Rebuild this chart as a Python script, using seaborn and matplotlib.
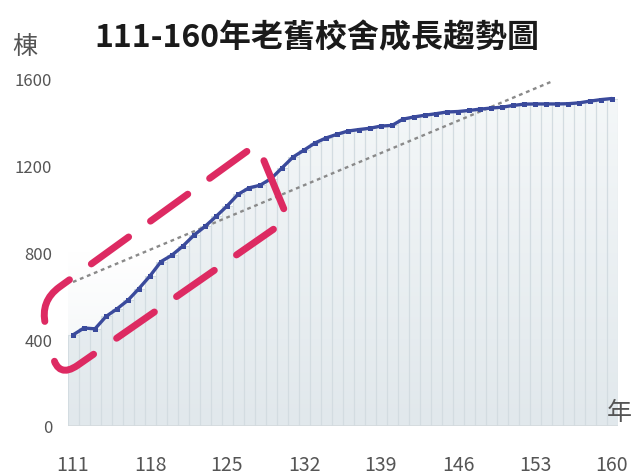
import numpy as np
import matplotlib
matplotlib.use("Agg")
import matplotlib.pyplot as plt
import seaborn as sns
from matplotlib.path import Path
from matplotlib.patches import PathPatch
from matplotlib.colors import LinearSegmentedColormap
from matplotlib.transforms import IdentityTransform

# 老舊校舍累計棟數（民國年）
years = list(range(111, 161))
buildings = [420, 452, 448, 505, 540, 580, 634, 692, 758, 788,
             830, 880, 920, 966, 1014, 1068, 1098, 1110, 1140, 1190,
             1240, 1272, 1305, 1328, 1345, 1360, 1367, 1373, 1383, 1386,
             1415, 1425, 1433, 1440, 1448, 1450, 1455, 1461, 1466, 1470,
             1478, 1484, 1485, 1485, 1485, 1486, 1490, 1498, 1505, 1510]

# 線性趨勢線端點
trend_years = [111, 154.6]
trend_values = [664, 1590]

# 座標軸刻度
x_ticks = [111, 118, 125, 132, 139, 146, 153, 160]
y_ticks = [0, 400, 800, 1200, 1600]

# 標示區（快速成長期）四個角，依序：左上、左下、右下、右上
zone_years = [108.0, 109.64, 130.55, 127.73]
zone_values = [576, 217, 954, 1300]

sns.set_style("white")
plt.rcParams["font.family"] = ["Noto Sans CJK TC", "DejaVu Sans"]

W, H = 637, 477
fig = plt.figure(figsize=(W / 100, H / 100), dpi=100)
ax = fig.add_axes([67.5 / W, 50 / H, 550 / W, 347 / H])

# 柱狀底紋
sns.barplot(x=years, y=buildings, native_scale=True, width=1.0, fill=False,
            color="#d3dce1", linewidth=0.8, errorbar=None, ax=ax, zorder=1)

# 背景淡漸層
bg = np.linspace(0, 1, 256).reshape(-1, 1)
bg_cmap = LinearSegmentedColormap.from_list("bg", ["#eef2f4", "#ffffff", "#ffffff"])
ax.imshow(bg, extent=[110.5, 160.5, 0, 1600], origin="lower", aspect="auto",
          cmap=bg_cmap, zorder=0)

# 柱內漸層填色，裁切成各柱形狀
bars = [p for p in ax.patches]
bar_path = Path.make_compound_path(
    *[p.get_path().transformed(p.get_patch_transform()) for p in bars])
grad_cmap = LinearSegmentedColormap.from_list("bar", ["#e1e8ec", "#f5f8f9"])
im = ax.imshow(bg, extent=[110.5, 160.5, 0, 1600], origin="lower",
               aspect="auto", cmap=grad_cmap, zorder=0.5)
clip = PathPatch(bar_path, transform=ax.transData, facecolor="none",
                 edgecolor="none")
ax.add_patch(clip)
im.set_clip_path(clip)

# 趨勢線
sns.lineplot(x=trend_years, y=trend_values, color="#8a8a8a", linewidth=1.7,
             linestyle=(0, (1.6, 1.6)), ax=ax, zorder=3)

# 成長曲線
sns.lineplot(x=years, y=buildings, color="#3a4a9c", linewidth=2.4,
             marker="s", markersize=3.6, markeredgewidth=0, ax=ax, zorder=4)

ax.axhline(0, color="#d4dadd", linewidth=1.2, zorder=2)

ax.set_xlim(110.5, 160.5)
ax.set_ylim(0, 1600)
ax.set_xticks(x_ticks)
ax.set_xticklabels([str(v) for v in x_ticks])
ax.set_yticks(y_ticks)
ax.set_yticklabels([str(v) for v in y_ticks])
ax.tick_params(axis="x", length=0, pad=20, labelsize=14, labelcolor="#555555")
ax.tick_params(axis="y", length=0, pad=11, labelsize=12, labelcolor="#555555")
ax.set_xlabel("")
ax.set_ylabel("")
for s in ax.spines.values():
    s.set_visible(False)
ax.grid(False)

# 標題與單位
fig.text(317 / W, 1 - 38 / H, "111-160年老舊校舍成長趨勢圖", ha="center",
         va="center", fontsize=23, fontweight="bold", color="#1a1a1a")
fig.text(25 / W, 1 - 47 / H, "棟", ha="center", va="center", fontsize=18,
         color="#555555")
fig.text(619 / W, 1 - 413 / H, "年", ha="center", va="center", fontsize=18,
         color="#555555")

# 圓角虛線框（以像素計算）
tl, bl, br, tr = ax.transData.transform(np.column_stack([zone_years, zone_values]))


def unit(v):
    return v / np.linalg.norm(v)


r = 24
tl_a, tl_b = tl + unit(tr - tl) * r, tl + unit(bl - tl) * r
bl_a, bl_b = bl + unit(tl - bl) * r, bl + unit(br - bl) * r

upper = Path([tr, tl_a, tl, tl_b, bl_a],
             [Path.MOVETO, Path.LINETO, Path.CURVE3, Path.CURVE3, Path.LINETO])
lower = Path([bl_a, bl, bl_b, br, tr],
             [Path.MOVETO, Path.CURVE3, Path.CURVE3, Path.LINETO, Path.LINETO])

lw = 5.0
px = 0.72 / lw  # 像素 -> 線寬單位
upper_dash = [46, 27, 46, 27, 46, 27, 52, 200]
lower_dash = [48, 28, 46, 27, 46, 27, 45, 29, 52, 200]
styles = [
    (upper, ((sum(upper_dash) - 12.5) * px, tuple(d * px for d in upper_dash))),
    (lower, ((sum(lower_dash) - 6) * px, tuple(d * px for d in lower_dash))),
]
for path, ls in styles:
    patch = PathPatch(path, transform=IdentityTransform(), facecolor="none",
                      edgecolor="#dd2a62", linewidth=lw, linestyle=ls,
                      capstyle="round", joinstyle="round", zorder=6)
    patch.set_clip_on(False)
    fig.add_artist(patch)

fig.savefig("out.png", dpi=100)
